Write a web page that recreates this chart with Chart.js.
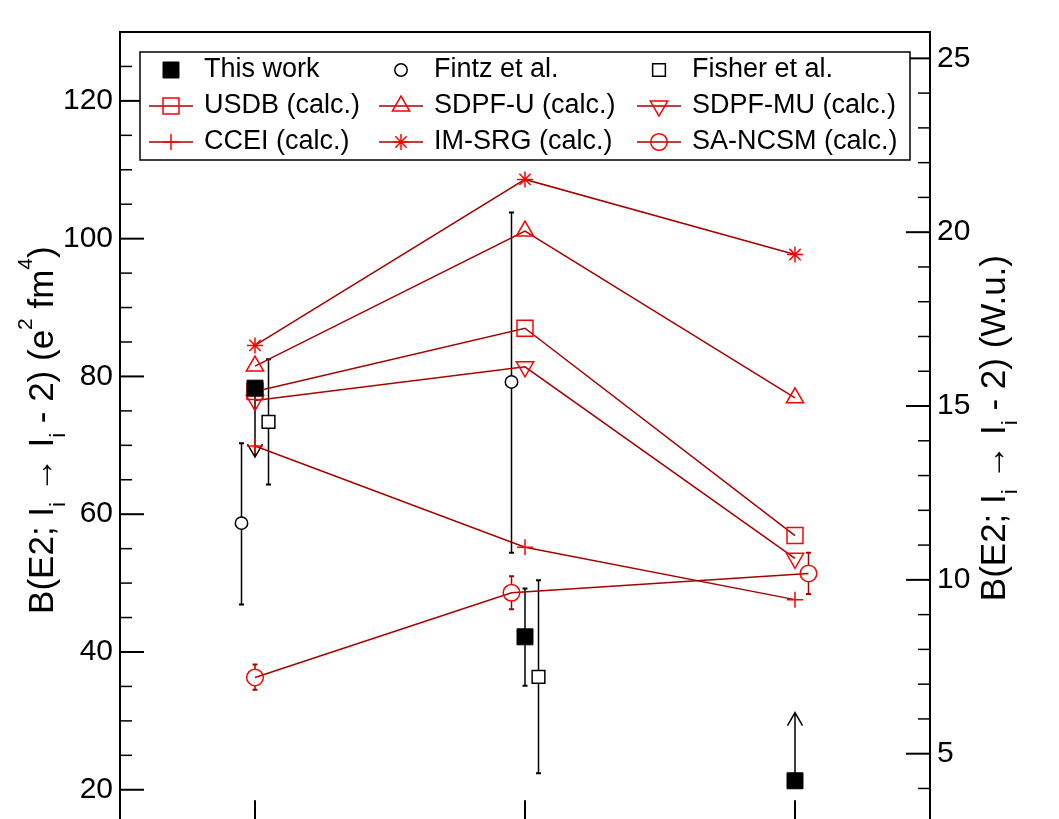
<!DOCTYPE html>
<html>
<head>
<meta charset="utf-8">
<title>B(E2)</title>
<script src="https://cdn.jsdelivr.net/npm/chart.js"></script>
<style>
    html, body { margin: 0; padding: 0; background: #fff; overflow: hidden; }
    #contenedor { width: 1059px; height: 819px; overflow: hidden; }
</style>
</head>
<body>
<div id="contenedor"><canvas id="grafica" width="1059" height="837"></canvas></div>
<script>

// posiciones de los tres estados en el eje x
const categorias = [1, 2, 3];
const xFintz = [0.95, 1.95];
const xFisher = [1.05, 2.05];
const xSaNcsm = [1, 1.95, 3.05];

// experimento (e2 fm4)
const thisWork = [78.3, 42.2, 21.3];
const thisWorkErrLo = [null, 35.1, null];
const thisWorkErrHi = [null, 49.2, null];
const thisWorkLimite = [68.3, null, 31.2];

const fintz = [58.7, 79.2];
const fintzErrLo = [46.9, 54.4];
const fintzErrHi = [70.3, 103.8];

const fisher = [73.4, 36.4];
const fisherErrLo = [64.3, 22.4];
const fisherErrHi = [82.5, 50.4];

// calculos
const usdb = [77.8, 87.0, 56.9];
const sdpfU = [81.5, 101.1, 76.9];
const sdpfMU = [76.5, 81.4, 53.6];
const ccei = [69.9, 55.2, 47.6];
const imsrg = [84.5, 108.6, 97.7];
const saNcsm = [36.3, 48.6, 51.4];
const saNcsmErrLo = [34.5, 46.2, 48.4];
const saNcsmErrHi = [38.2, 51.0, 54.4];

// ejes
const ticksIzq = [20, 40, 60, 80, 100, 120];
const ticksDer = [5, 10, 15, 20, 25];
const wu = 5.047; // e2 fm4 por W.u.
const yMin = 15;
const yMax = 130;

const fuente = "'Liberation Sans', Arial, Helvetica, sans-serif";
const rojo = '#ff0000';
const rojoOscuro = '#a80000';
const vacio = 'rgba(0,0,0,0)';

function puntos(xs, ys) {
    return xs.map((x, i) => ({ x: x, y: ys[i] }));
}

function calculo(label, xs, ys, estilo, radio, extra) {
    return Object.assign({
        label: label,
        data: puntos(xs, ys),
        showLine: true,
        borderColor: rojoOscuro,
        borderWidth: 1.5,
        pointStyle: estilo,
        pointRadius: radio,
        pointBorderColor: rojo,
        pointBackgroundColor: vacio,
        pointBorderWidth: 1.5,
        enLeyendaLinea: true
    }, extra || {});
}

const datasets = [
    {
        label: 'This work', data: puntos(categorias, thisWork), showLine: false,
        pointStyle: 'rect', pointRadius: 11.3, pointBackgroundColor: '#000', pointBorderColor: '#000',
        pointBorderWidth: 1, errLo: thisWorkErrLo, errHi: thisWorkErrHi, limite: thisWorkLimite
    },
    {
        label: 'Fintz et al.', data: puntos(xFintz, fintz), showLine: false,
        pointStyle: 'circle', pointRadius: 6.2, pointBackgroundColor: '#fff', pointBorderColor: '#000',
        pointBorderWidth: 1.5, errLo: fintzErrLo, errHi: fintzErrHi
    },
    {
        label: 'Fisher et al.', data: puntos(xFisher, fisher), showLine: false,
        pointStyle: 'rect', pointRadius: 9, pointBackgroundColor: '#fff', pointBorderColor: '#000',
        pointBorderWidth: 1.5, errLo: fisherErrLo, errHi: fisherErrHi
    },
    calculo('USDB (calc.)', categorias, usdb, 'rect', 11.3),
    calculo('SDPF-U (calc.)', categorias, sdpfU, 'triangle', 10),
    calculo('SDPF-MU (calc.)', categorias, sdpfMU, 'triangle', 10, { pointRotation: 180 }),
    calculo('CCEI (calc.)', categorias, ccei, 'cross', 8),
    calculo('IM-SRG (calc.)', categorias, imsrg, 'star', 8),
    calculo('SA-NCSM (calc.)', xSaNcsm, saNcsm, 'circle', 8.3,
        { errLo: saNcsmErrLo, errHi: saNcsmErrHi, errColor: rojoOscuro, errHueco: 8.3 })
];

function textoRico(ctx, partes, base, centro) {
    ctx.save();
    ctx.translate(base, centro);
    ctx.rotate(-Math.PI / 2);
    ctx.fillStyle = '#000';
    ctx.textBaseline = 'alphabetic';
    ctx.textAlign = 'left';
    const estilos = { n: [35, 0], sub: [22, 12], sup: [21, -21] };
    let total = 0;
    partes.forEach(p => {
        ctx.font = estilos[p[1]][0] + 'px ' + fuente;
        total += ctx.measureText(p[0]).width;
    });
    let u = -total / 2;
    partes.forEach(p => {
        const e = estilos[p[1]];
        ctx.font = e[0] + 'px ' + fuente;
        ctx.fillText(p[0], u, e[1]);
        u += ctx.measureText(p[0]).width;
    });
    ctx.restore();
}

const dibujoGrace = {
    id: 'dibujoGrace',
    beforeDatasetsDraw(chart) {
        const ctx = chart.ctx;
        const a = chart.chartArea;
        const y = chart.scales.y;
        const y2 = chart.scales.y2;
        const x = chart.scales.x;

        // barras de error y flechas
        chart.data.datasets.forEach((ds, i) => {
            const meta = chart.getDatasetMeta(i);
            ctx.save();
            ctx.strokeStyle = ds.errColor || '#000';
            meta.data.forEach((p, j) => {
                if (ds.errLo && ds.errLo[j] != null) {
                    const arriba = y.getPixelForValue(ds.errHi[j]);
                    const abajo = y.getPixelForValue(ds.errLo[j]);
                    const hueco = ds.errHueco || 0;
                    ctx.lineWidth = 1.5;
                    ctx.beginPath();
                    ctx.moveTo(p.x, arriba);
                    ctx.lineTo(p.x, p.y - hueco);
                    ctx.moveTo(p.x, p.y + hueco);
                    ctx.lineTo(p.x, abajo);
                    ctx.stroke();
                    ctx.lineWidth = 2;
                    ctx.beginPath();
                    ctx.moveTo(p.x - 2.5, arriba);
                    ctx.lineTo(p.x + 2.5, arriba);
                    ctx.moveTo(p.x - 2.5, abajo);
                    ctx.lineTo(p.x + 2.5, abajo);
                    ctx.stroke();
                }
                if (ds.limite && ds.limite[j] != null) {
                    const punta = y.getPixelForValue(ds.limite[j]);
                    const dir = punta > p.y ? -1 : 1;
                    ctx.lineWidth = 1.5;
                    ctx.beginPath();
                    ctx.moveTo(p.x, p.y);
                    ctx.lineTo(p.x, punta);
                    ctx.moveTo(p.x - 7.5, punta + dir * 13);
                    ctx.lineTo(p.x, punta);
                    ctx.lineTo(p.x + 7.5, punta + dir * 13);
                    ctx.stroke();
                }
            });
            ctx.restore();
        });

        // marco y marcas hacia adentro
        ctx.save();
        ctx.strokeStyle = '#000';
        ctx.lineWidth = 2;
        ctx.strokeRect(a.left, a.top, a.right - a.left, a.bottom - a.top);

        const marca = (py, lado, largo) => {
            if (py < a.top || py > a.bottom) return;
            ctx.beginPath();
            if (lado === 'izq') {
                ctx.moveTo(a.left, py);
                ctx.lineTo(a.left + largo, py);
            } else {
                ctx.moveTo(a.right, py);
                ctx.lineTo(a.right - largo, py);
            }
            ctx.stroke();
        };
        ticksIzq.forEach(v => marca(y.getPixelForValue(v), 'izq', 24));
        ticksDer.forEach(v => marca(y2.getPixelForValue(v), 'der', 24));
        ctx.lineWidth = 1.5;
        for (let v = 5; v <= yMax; v += 5) {
            if (ticksIzq.indexOf(v) < 0) marca(y.getPixelForValue(v), 'izq', 12);
        }
        for (let v = 1; v <= yMax / wu; v += 1) {
            if (ticksDer.indexOf(v) < 0) marca(y2.getPixelForValue(v), 'der', 12);
        }
        ctx.lineWidth = 2;
        categorias.forEach(c => {
            const px = x.getPixelForValue(c);
            ctx.beginPath();
            ctx.moveTo(px, a.bottom);
            ctx.lineTo(px, a.bottom - 24);
            ctx.stroke();
        });
        ctx.restore();
    },
    afterDraw(chart) {
        const ctx = chart.ctx;
        const a = chart.chartArea;
        const centro = (a.top + a.bottom) / 2;

        // leyenda
        ctx.save();
        ctx.fillStyle = '#fff';
        ctx.fillRect(140, 52, 770, 108);
        ctx.strokeStyle = '#000';
        ctx.lineWidth = 1.5;
        ctx.strokeRect(140, 52, 770, 108);
        const columnas = [171, 401, 659];
        const filas = [70, 106, 142];
        chart.data.datasets.forEach((ds, i) => {
            const cx = columnas[i % 3];
            const cy = filas[Math.floor(i / 3)];
            if (ds.enLeyendaLinea) {
                ctx.strokeStyle = ds.borderColor;
                ctx.lineWidth = ds.borderWidth;
                ctx.beginPath();
                ctx.moveTo(cx - 22, cy);
                ctx.lineTo(cx + 22, cy);
                ctx.stroke();
            }
            ctx.fillStyle = ds.pointBackgroundColor;
            ctx.strokeStyle = ds.pointBorderColor;
            ctx.lineWidth = ds.pointBorderWidth;
            Chart.helpers.drawPoint(ctx, {
                pointStyle: ds.pointStyle,
                rotation: ds.pointRotation || 0,
                radius: ds.pointRadius,
                borderWidth: ds.pointBorderWidth
            }, cx, cy);
            ctx.fillStyle = '#000';
            ctx.font = '27px ' + fuente;
            ctx.textBaseline = 'alphabetic';
            ctx.textAlign = 'left';
            ctx.fillText(ds.label, cx + 33, cy + 7);
        });
        ctx.restore();

        // titulos de los ejes
        textoRico(ctx, [['B(E2; I', 'n'], ['i', 'sub'], [' \u2192 I', 'n'], ['i', 'sub'],
            [' - 2) (e', 'n'], ['2', 'sup'], [' fm', 'n'], ['4', 'sup'], [')', 'n']], 53, centro + 2);
        textoRico(ctx, [['B(E2; I', 'n'], ['i', 'sub'], [' \u2192 I', 'n'], ['i', 'sub'],
            [' - 2) (W.u.)', 'n']], 1005, centro);
    }
};

function sinRelleno(s, ancho) {
    s.width = ancho;
    s.paddingTop = 0;
    s.paddingBottom = 0;
}

const ctxGrafica = document.getElementById('grafica');
const graficaBE2 = new Chart(ctxGrafica, {
    type: 'scatter',
    data: { datasets: datasets },
    options: {
        responsive: false,
        animation: false,
        layout: { padding: { top: 32, bottom: 6, left: 0, right: 0 } },
        plugins: { legend: { display: false }, tooltip: { enabled: false } },
        scales: {
            x: { type: 'linear', min: 0.5, max: 3.5, display: false },
            y: {
                type: 'linear', position: 'left', min: yMin, max: yMax,
                afterBuildTicks: s => { s.ticks = ticksIzq.map(v => ({ value: v })); },
                afterFit: s => sinRelleno(s, 120),
                grid: { display: false, drawTicks: false },
                border: { display: false },
                ticks: { color: '#000', font: { family: fuente, size: 30 }, padding: 7 }
            },
            y2: {
                type: 'linear', position: 'right', min: yMin / wu, max: yMax / wu,
                afterBuildTicks: s => { s.ticks = ticksDer.map(v => ({ value: v })); },
                afterFit: s => sinRelleno(s, 129),
                grid: { display: false, drawTicks: false },
                border: { display: false },
                ticks: { color: '#000', font: { family: fuente, size: 30 }, padding: 7 }
            }
        }
    },
    plugins: [dibujoGrace]
});

</script>
</body>
</html>
